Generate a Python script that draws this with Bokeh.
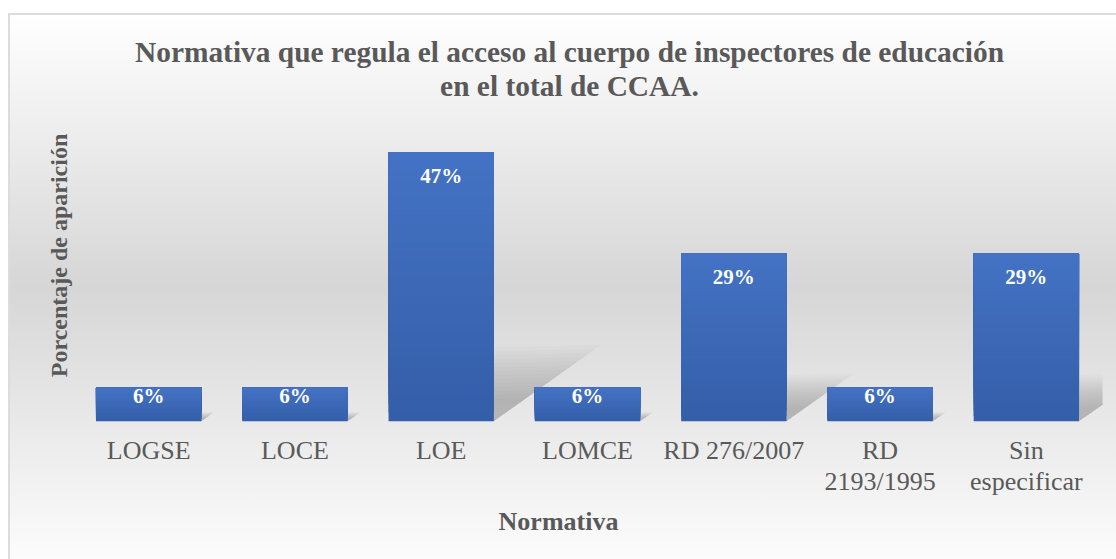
import numpy as np
from bokeh.plotting import figure
from bokeh.models import ColumnDataSource, Range1d, Label, FixedTicker
from bokeh.core.properties import value
from bokeh.embed import file_html
from bokeh.resources import INLINE

# ---- data ----
categories = ["LOGSE", "LOCE", "LOE", "LOMCE", "RD 276/2007", "RD\n2193/1995", "Sin\nespecificar"]
shares = [0.0588, 0.0588, 0.4706, 0.0588, 0.2941, 0.0588, 0.2941]
title_lines = ["Normativa que regula el acceso al cuerpo de inspectores de educación",
               "en el total de CCAA."]
x_title = "Normativa"
y_title = "Porcentaje de aparición"

# ---- layout (page pixels) ----
W, H = 1116, 559
FRAME_B = 421            # baseline of the bars
CAT_L, CAT_R = 75, 1099  # horizontal extent of the category bands
PLOT_R = 1102            # right clip edge of the plot area
PX_PER_UNIT = 572        # vertical pixels for a share of 1.0
FONT = "Liberation Serif"
TXT = "#595959"
NCAT = len(categories)
U = (CAT_R - CAT_L) / NCAT

def xd(px):
    return (px - CAT_L) / U - 0.5

def yd(py):
    return (FRAME_B - py) / PX_PER_UNIT

idx = list(range(NCAT))

p = figure(width=W, height=H, x_range=Range1d(xd(0), xd(W)), y_range=Range1d(0, yd(0)),
           output_backend="svg", toolbar_location=None,
           min_border_left=0, min_border_right=0, min_border_top=0,
           min_border_bottom=H - FRAME_B)
p.title.visible = False
p.background_fill_color = None
p.border_fill_color = None
p.outline_line_color = None
p.xgrid.visible = False
p.ygrid.visible = False
p.yaxis.visible = False
p.styles = {
    "background": ("linear-gradient(#dcdcdc, #dcdcdc) 8px 13px / 2px 100% no-repeat, "
                   "linear-gradient(#dcdcdc, #dcdcdc) 8px 13px / 100% 2px no-repeat, "
                   "linear-gradient(to bottom, #ffffff 0px, #d6d6d6 274px, #fcfcfc 546px) "
                   "8px 13px / 100% 546px no-repeat, #ffffff")
}

BAR_W = 0.72

# ---- perspective shadows (soft, layered, clipped to plot area) ----
x_lim = xd(PLOT_R)
scales = np.linspace(1.15, 0.35, 14)
for s in scales:
    xs, ys = [], []
    for i, v in zip(idx, shares):
        xr = i + BAR_W / 2
        hv = 0.24 * v * s
        hx = 0.345 * v * PX_PER_UNIT / U * s
        tip_x, tip_y = xr + hx, hv * 1.03
        if tip_x <= x_lim:
            xs.append([xr - 0.004, xr - 0.004, tip_x])
            ys.append([0, hv, tip_y])
        else:
            t = (x_lim - xr) / hx
            xs.append([xr - 0.004, xr - 0.004, x_lim, x_lim])
            ys.append([0, hv, hv + (tip_y - hv) * t, tip_y * t])
    p.patches(xs, ys, fill_color="#707070", fill_alpha=0.036, line_color=None)

# ---- gradient bars (overlapping bands) ----
N = 30
c_bot = np.array([52, 94, 168])
c_top = np.array([68, 114, 196])
bx, bb, bt, bc = [], [], [], []
for k in range(N):
    f = k / (N - 1)
    col = "#%02x%02x%02x" % tuple(int(round(c)) for c in c_bot + (c_top - c_bot) * f)
    for i, v in zip(idx, shares):
        bx.append(i)
        bb.append(v * k / N)
        bt.append(v)
        bc.append(col)
p.vbar(x=bx, bottom=bb, top=bt, width=BAR_W, fill_color=bc, line_color=None)

# ---- bar labels ----
lab_src = ColumnDataSource(dict(
    x=idx, y=shares,
    t=["%d%%" % round(v * 100) for v in shares],
    off=[24 if v > 0.1 else 8 for v in shares]))
p.text(x="x", y="y", text="t", y_offset="off", source=lab_src,
       text_align="center", text_baseline="alphabetic",
       text_font=value(FONT), text_font_style="bold", text_font_size="21px",
       text_color="white")

# ---- x axis ----
ax = p.xaxis[0]
ax.ticker = FixedTicker(ticks=idx, minor_ticks=[])
ax.major_label_overrides = {i: c for i, c in zip(idx, categories)}
ax.axis_line_color = None
ax.major_tick_line_color = None
ax.minor_tick_line_color = None
ax.major_label_standoff = 8
ax.major_label_text_font = FONT
ax.major_label_text_font_size = "26px"
ax.major_label_text_color = TXT
ax.major_label_text_line_height = 1.1
ax.axis_label = x_title
ax.axis_label_standoff = 8
ax.axis_label_text_font = FONT
ax.axis_label_text_font_size = "26px"
ax.axis_label_text_font_style = "bold"
ax.axis_label_text_color = TXT

# ---- title and y label ----
for txt, py in zip(title_lines, [51, 85]):
    p.add_layout(Label(x=xd(569), y=yd(py), text=txt, text_align="center",
                       text_baseline="alphabetic", text_font=FONT, text_font_size="29.4px",
                       text_font_style="bold", text_color=TXT))
p.add_layout(Label(x=xd(58), y=yd(255), text=y_title, angle=np.pi / 2,
                   text_align="center", text_baseline="middle", text_font=FONT,
                   text_font_size="24px", text_font_style="bold", text_color=TXT))

open("out.html", "w").write(file_html(p, INLINE))
